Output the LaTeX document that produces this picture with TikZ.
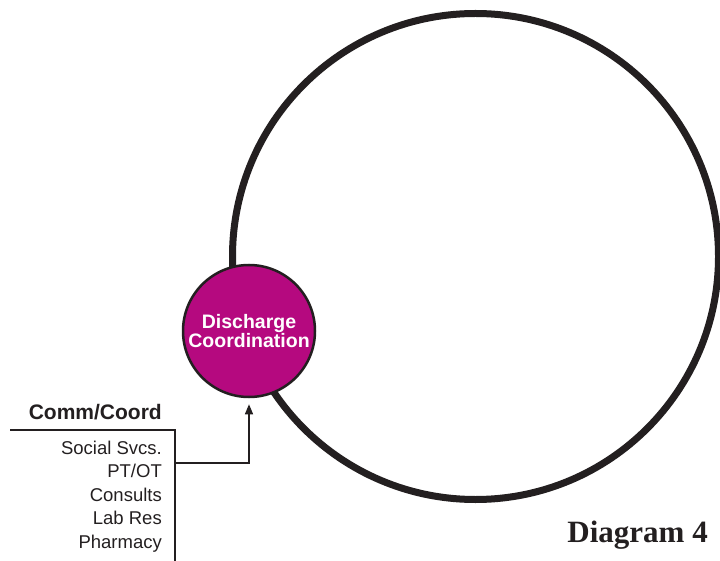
\documentclass[tikz,border=0pt]{standalone}
\usepackage{fontspec}
\setmainfont{Liberation Sans}
\newfontfamily\serifbold{Liberation Serif}[BoldFont={Liberation Serif Bold}]
\usetikzlibrary{arrows.meta}
\definecolor{inkdark}{HTML}{231F20}
\definecolor{plum}{HTML}{B5097F}
\tikzset{
  ring/.style={circle, draw=inkdark, line width=7pt, minimum size=486pt, inner sep=0pt},
  hub/.style={circle, draw=inkdark, line width=2.5pt, fill=plum, minimum size=132pt, inner sep=0pt,
    text=white, font=\bfseries\fontsize{19.5}{18.5}\selectfont, align=center},
  rule/.style={draw=inkdark, line width=1.2pt},
  link/.style={draw=inkdark, line width=1.3pt, -{Triangle[length=10pt,width=8pt]}, shorten >=6pt},
  heading/.style={font=\bfseries\fontsize{21}{24}\selectfont, text=inkdark, inner sep=0pt},
  items/.style={font=\fontsize{18.5}{23.5}\selectfont, text=inkdark, align=right, inner sep=0pt},
  caption/.style={font=\serifbold\bfseries\fontsize{31}{36}\selectfont, text=inkdark, inner sep=0pt}
}
\begin{document}
\begin{tikzpicture}[x=1pt, y=-1pt]
  \useasboundingbox (0,0) rectangle (720,561);
  % outer cycle and the discharge hub sitting on it
  \node[ring] (cycle) at (475.5,256.5) {};
  \node[hub] (dc) at (249,331) {Discharge\\Coordination};
  % communication / coordination table
  \node[heading, anchor=base east] (head) at (162,419) {Comm/Coord};
  \coordinate (tl) at (10,430);
  \coordinate (tr) at (175,430);
  \coordinate (tb) at (175,561);
  \coordinate (tap) at (175,463);
  \draw[rule] (tl) -- (tr) -- (tb);
  % the base anchor of a multi-line node sits on its last line
  \node[items, anchor=base east] (list) at (162,548)
    {Social Svcs.\\PT/OT\\Consults\\Lab Res\\Pharmacy};
  % feed from the table into the hub
  \draw[link] (tap) -| (dc.south);
  % caption
  \node[caption, anchor=base east] (cap) at (708,542) {Diagram 4};
\end{tikzpicture}
\end{document}
